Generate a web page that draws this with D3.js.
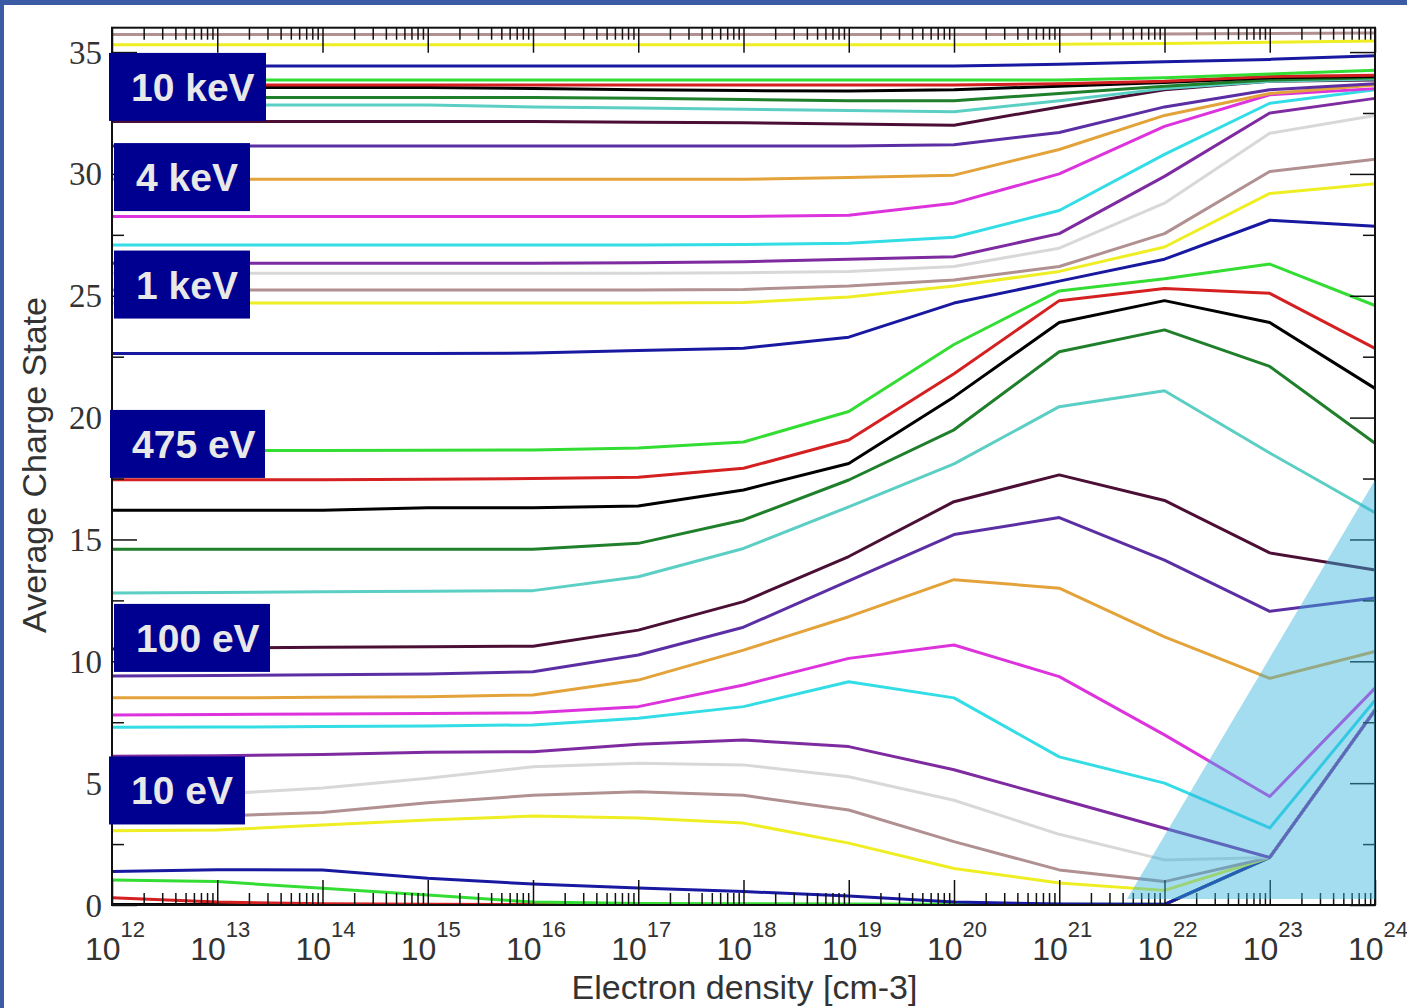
<!DOCTYPE html>
<html>
<head>
<meta charset="utf-8">
<script src="https://cdn.jsdelivr.net/npm/d3@7"></script>
<style>
    body { margin: 0; background: #ffffff; }
    svg { display: block; }
</style>
</head>
<body>
<div id="app"></div>
<script>
// electron densities (cm-3), one point per decade
var densities = [1e12, 1e13, 1e14, 1e15, 1e16, 1e17, 1e18, 1e19, 1e20, 1e21, 1e22, 1e23, 1e24];

// grace colour cycle, used in order for the curves
var curveColors = ["#000000", "#d42020", "#33dd33", "#1818a0", "#eeee22", "#b09090", "#d8d8d8",
    "#7e2aa0", "#33dde6", "#dd33dd", "#e3a33a", "#5b2fa3", "#4b0f35", "#5ccfc4", "#1f7f2a"];

// average charge state of each curve, read at every decade (bottom curve first)
var chargeStates = [
    [0.02, 0.02, 0.02, 0.02, 0.02, 0.02, 0.02, 0.02, 0.02, 0.02, 0.02, 1.95, 8.0],
    [0.3, 0.12, 0.05, 0.03, 0.02, 0.02, 0.02, 0.02, 0.02, 0.02, 0.02, 1.95, 8.0],
    [1.03, 0.96, 0.69, 0.41, 0.12, 0.06, 0.05, 0.04, 0.03, 0.03, 0.03, 1.95, 8.0],
    [1.37, 1.45, 1.44, 1.1, 0.86, 0.7, 0.55, 0.37, 0.12, 0.04, 0.03, 1.95, 8.0],
    [3.05, 3.08, 3.28, 3.49, 3.65, 3.57, 3.36, 2.54, 1.5, 0.9, 0.6, 1.95, 8.0],
    [3.6, 3.65, 3.8, 4.2, 4.5, 4.65, 4.5, 3.9, 2.6, 1.44, 0.96, 1.95, 8.0],
    [4.4, 4.55, 4.8, 5.2, 5.67, 5.82, 5.75, 5.26, 4.3, 2.9, 1.85, 1.95, 8.0],
    [6.1, 6.12, 6.18, 6.27, 6.29, 6.6, 6.77, 6.5, 5.55, 4.35, 3.15, 1.95, 8.0],
    [7.29, 7.3, 7.32, 7.35, 7.39, 7.66, 8.14, 9.16, 8.5, 6.08, 5.0, 3.16, 8.4],
    [7.8, 7.82, 7.84, 7.86, 7.89, 8.14, 9.03, 10.12, 10.67, 9.37, 6.98, 4.45, 8.9],
    [8.5, 8.5, 8.52, 8.55, 8.62, 9.23, 10.46, 11.83, 13.35, 13.0, 11.0, 9.3, 10.4],
    [9.4, 9.42, 9.45, 9.48, 9.57, 10.26, 11.4, 13.3, 15.2, 15.9, 14.15, 12.05, 12.6],
    [10.5, 10.55, 10.58, 10.6, 10.62, 11.28, 12.45, 14.3, 16.55, 17.65, 16.6, 14.45, 13.75],
    [12.8, 12.82, 12.85, 12.87, 12.9, 13.47, 14.63, 16.34, 18.1, 20.45, 21.1, 18.55, 16.1],
    [14.6, 14.6, 14.6, 14.6, 14.6, 14.84, 15.8, 17.44, 19.5, 22.7, 23.6, 22.1, 18.95],
    [16.2, 16.2, 16.2, 16.3, 16.3, 16.37, 17.03, 18.12, 20.85, 23.9, 24.8, 23.9, 21.2],
    [17.45, 17.45, 17.45, 17.47, 17.5, 17.55, 17.92, 19.08, 21.8, 24.8, 25.3, 25.1, 22.84],
    [18.65, 18.65, 18.65, 18.66, 18.67, 18.75, 19.0, 20.25, 23.0, 25.2, 25.7, 26.3, 24.6],
    [22.63, 22.63, 22.63, 22.63, 22.65, 22.75, 22.85, 23.3, 24.7, 25.6, 26.5, 28.1, 27.85],
    [24.7, 24.7, 24.7, 24.7, 24.7, 24.7, 24.72, 24.95, 25.4, 26.0, 27.0, 29.2, 29.6],
    [25.24, 25.24, 25.24, 25.24, 25.24, 25.24, 25.26, 25.4, 25.65, 26.2, 27.55, 30.1, 30.6],
    [25.92, 25.92, 25.92, 25.92, 25.92, 25.92, 25.94, 26.0, 26.2, 26.95, 28.8, 31.67, 32.4],
    [26.33, 26.33, 26.33, 26.33, 26.33, 26.35, 26.4, 26.5, 26.6, 27.55, 29.9, 32.5, 33.1],
    [27.08, 27.08, 27.08, 27.08, 27.08, 27.08, 27.1, 27.15, 27.4, 28.5, 30.8, 32.9, 33.45],
    [28.25, 28.25, 28.25, 28.25, 28.25, 28.25, 28.25, 28.3, 28.8, 30.0, 31.95, 33.25, 33.5],
    [29.78, 29.78, 29.78, 29.78, 29.78, 29.78, 29.78, 29.85, 29.95, 31.0, 32.4, 33.3, 33.65],
    [31.15, 31.15, 31.15, 31.15, 31.15, 31.15, 31.15, 31.15, 31.2, 31.7, 32.75, 33.45, 33.7],
    [32.15, 32.15, 32.15, 32.15, 32.15, 32.12, 32.1, 32.05, 32.0, 32.75, 33.45, 33.8, 33.85],
    [32.83, 32.83, 32.83, 32.83, 32.75, 32.7, 32.65, 32.6, 32.55, 33.0, 33.5, 33.8, 33.9],
    [33.14, 33.14, 33.14, 33.14, 33.14, 33.1, 33.05, 33.0, 33.0, 33.3, 33.6, 33.85, 33.95],
    [33.55, 33.55, 33.55, 33.55, 33.5, 33.45, 33.42, 33.4, 33.45, 33.6, 33.75, 33.95, 34.0],
    [33.65, 33.65, 33.65, 33.65, 33.65, 33.65, 33.65, 33.65, 33.65, 33.7, 33.8, 34.0, 34.05],
    [33.85, 33.85, 33.85, 33.85, 33.85, 33.85, 33.85, 33.85, 33.85, 33.85, 33.95, 34.1, 34.25],
    [34.43, 34.43, 34.43, 34.43, 34.43, 34.43, 34.43, 34.43, 34.43, 34.5, 34.6, 34.7, 34.85],
    [35.3, 35.3, 35.3, 35.3, 35.3, 35.3, 35.3, 35.3, 35.3, 35.32, 35.35, 35.4, 35.45],
    [35.72, 35.72, 35.72, 35.72, 35.72, 35.72, 35.72, 35.72, 35.72, 35.72, 35.74, 35.76, 35.78]
];

// temperature labels and the charge state at which each box sits
var tempLabels = ["10 keV", "4 keV", "1 keV", "475 eV", "100 eV", "10 eV"];
var tempLabelLevels = [33.57, 29.87, 25.46, 18.92, 10.96, 4.7];

// shaded region (density, charge state corners)
var shadeDensity = [4.4e21, 1e24, 1e24];
var shadeCharge = [0.25, 17.44, 0.25];

var yTickValues = [0, 5, 10, 15, 20, 25, 30, 35];

var options = {
    width: 1407,
    height: 1008,
    left: 112,
    right: 1375,
    top: 27.7,
    bottom: 905,
    lineWidth: 3,
    majorTick: 25,
    minorTick: 12,
    frameColor: "#3b5ba5",
    boxColor: "#000090",
    textColor: "#333333"
};

function drawChart(opt) {
    var svg = d3.select("#app")
        .append("svg")
        .attr("width", opt.width)
        .attr("height", opt.height)
        .style("background", "#ffffff");

    // slide frame strips (top and left)
    svg.append("rect").attr("x", 0).attr("y", 0).attr("width", opt.width).attr("height", 5).attr("fill", opt.frameColor);
    svg.append("rect").attr("x", 0).attr("y", 0).attr("width", 4).attr("height", opt.height).attr("fill", opt.frameColor);

    var x = d3.scaleLog()
        .domain([1e12, 1e24])
        .range([opt.left, opt.right]);

    var y = d3.scaleLinear()
        .domain([0, 36])
        .range([opt.bottom, opt.top]);

    // minor and major tick values on the log axis
    var majorX = densities.slice();
    var minorX = [];
    for (var i = 0; i < densities.length - 1; i++) {
        for (var m = 2; m <= 9; m++) {
            minorX.push(densities[i] * m);
        }
    }
    var majorY = yTickValues;
    var minorY = d3.range(2.5, 36, 5);

    function addAxis(axisFn, scale, values, size, transform) {
        var g = svg.append("g")
            .attr("transform", transform)
            .call(axisFn(scale).tickValues(values).tickSize(size).tickFormat(""));
        g.select(".domain").remove();
        g.selectAll("line").attr("stroke", "#111").attr("stroke-width", 1.5);
    }

    // curves
    var line = d3.line()
        .x(function (d) { return x(d[0]); })
        .y(function (d) { return y(d[1]); });

    svg.append("g")
        .attr("class", "curves")
        .selectAll("path")
        .data(chargeStates)
        .enter()
        .append("path")
        .attr("fill", "none")
        .attr("stroke", function (d, i) { return curveColors[i % curveColors.length]; })
        .attr("stroke-width", opt.lineWidth)
        .attr("stroke-linejoin", "round")
        .attr("d", function (d) {
            return line(d.map(function (v, k) { return [densities[k], v]; }));
        });

    // ticks pointing inwards on all four sides
    addAxis(d3.axisTop, x, majorX, opt.majorTick, "translate(0," + opt.bottom + ")");
    addAxis(d3.axisTop, x, minorX, opt.minorTick, "translate(0," + opt.bottom + ")");
    addAxis(d3.axisBottom, x, majorX, opt.majorTick, "translate(0," + opt.top + ")");
    addAxis(d3.axisBottom, x, minorX, opt.minorTick, "translate(0," + opt.top + ")");
    addAxis(d3.axisRight, y, majorY, opt.majorTick, "translate(" + opt.left + ",0)");
    addAxis(d3.axisRight, y, minorY, opt.minorTick, "translate(" + opt.left + ",0)");
    addAxis(d3.axisLeft, y, majorY, opt.majorTick, "translate(" + opt.right + ",0)");
    addAxis(d3.axisLeft, y, minorY, opt.minorTick, "translate(" + opt.right + ",0)");

    // plot frame
    svg.append("rect")
        .attr("x", opt.left)
        .attr("y", opt.top)
        .attr("width", opt.right - opt.left)
        .attr("height", opt.bottom - opt.top)
        .attr("fill", "none")
        .attr("stroke", "#111")
        .attr("stroke-width", 2);

    // y tick labels (serif)
    svg.append("g").selectAll("text")
        .data(yTickValues)
        .enter().append("text")
        .attr("x", opt.left - 10)
        .attr("y", function (d) { return y(d); })
        .attr("dy", "0.35em")
        .attr("text-anchor", "end")
        .attr("font-family", "'Liberation Serif', 'Times New Roman', serif")
        .attr("font-size", 33)
        .attr("fill", opt.textColor)
        .text(function (d) { return d; });

    // x tick labels: 10 with superscript exponent
    var xLabels = svg.append("g").selectAll("text")
        .data(densities)
        .enter().append("text")
        .attr("x", function (d) { return x(d) + 3; })
        .attr("y", 960)
        .attr("text-anchor", "middle")
        .attr("font-family", "'Liberation Sans', Arial, sans-serif")
        .attr("fill", opt.textColor);
    xLabels.append("tspan")
        .attr("font-size", 32)
        .text("10");
    xLabels.append("tspan")
        .attr("font-size", 22)
        .attr("dy", -23)
        .text(function (d) { return Math.round(Math.log10(d)); });

    // axis titles
    svg.append("text")
        .attr("x", (opt.left + opt.right) / 2 + 1)
        .attr("y", 999)
        .attr("text-anchor", "middle")
        .attr("font-family", "'Liberation Sans', Arial, sans-serif")
        .attr("font-size", 34)
        .attr("fill", opt.textColor)
        .text("Electron density [cm-3]");

    svg.append("text")
        .attr("transform", "translate(46," + 465 + ") rotate(-90)")
        .attr("text-anchor", "middle")
        .attr("font-family", "'Liberation Sans', Arial, sans-serif")
        .attr("font-size", 34)
        .attr("fill", opt.textColor)
        .text("Average Charge State");

    // temperature boxes
    var boxLeft = [109, 114, 114, 110, 114, 109];
    var boxWidth = [157, 136, 136, 155, 156, 136];
    var boxHeight = 68;
    var boxes = svg.append("g").selectAll("g")
        .data(tempLabels)
        .enter().append("g")
        .attr("transform", function (d, i) {
            return "translate(" + boxLeft[i] + "," + (y(tempLabelLevels[i]) - boxHeight / 2) + ")";
        });
    boxes.append("rect")
        .attr("width", function (d, i) { return boxWidth[i]; })
        .attr("height", boxHeight)
        .attr("fill", opt.boxColor);
    boxes.append("text")
        .attr("x", 22)
        .attr("y", boxHeight / 2 + 14)
        .attr("font-family", "'Liberation Sans', Arial, sans-serif")
        .attr("font-weight", "bold")
        .attr("font-size", 39)
        .attr("fill", "#e8e8e8")
        .text(function (d) { return d; });

    // translucent shaded region on top
    var shadePoints = shadeDensity.map(function (d, i) { return [x(d), y(shadeCharge[i])]; });
    svg.append("path")
        .attr("d", "M" + shadePoints.join("L") + "Z")
        .attr("fill", "rgb(53,178,222)")
        .attr("fill-opacity", 0.45);
}

drawChart(options);
</script>
</body>
</html>
